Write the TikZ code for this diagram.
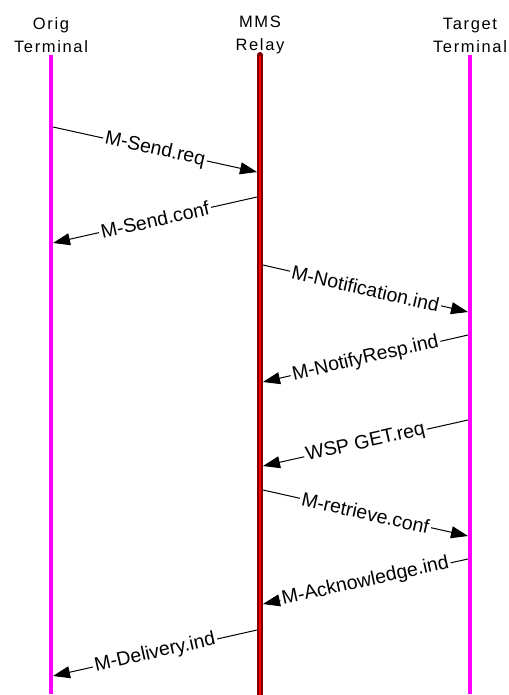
\documentclass[tikz,border=0pt]{standalone}
\usepackage{fontspec}
\setmainfont{Liberation Sans}
\usetikzlibrary{arrows.meta}
\definecolor{rojoosc}{RGB}{128,0,0}
\definecolor{fucsia}{RGB}{255,0,255}
\tikzset{
  vida/.style={line width=3.5pt,fucsia},
  msg/.style={line width=1pt,black,-{Triangle[length=17pt,width=12pt]}},
  etiq/.style={fill=white,sloped,inner xsep=2pt,inner ysep=0pt,
    font=\fontsize{19.5}{22}\selectfont},
  cabecera/.style={align=center,inner sep=0pt,
    font=\fontsize{16.5}{23}\selectfont\addfontfeatures{LetterSpace=10}},
}
\begin{document}
\begin{tikzpicture}[x=1pt,y=-1pt]
  \useasboundingbox (0,0) rectangle (508,695);
  %\draw[dashed,very thin,gray] (0,0) grid[step=50] (508,695);
  \node[cabecera] (orig) at (51,35) {Orig\\Terminal};
  \node[cabecera] (relay) at (260,35) {MMS\\Relay};
  \node[cabecera] (target) at (470,35) {Target\\Terminal};
  \coordinate (o1) at (51,55); \coordinate (o2) at (51,694); % Linea Orig
  \coordinate (r1) at (260,55); \coordinate (r2) at (260,695); % Linea Relay
  \coordinate (t1) at (470,55); \coordinate (t2) at (470,694); % Linea Target
  \draw[vida] (o1) -- (o2);
  \draw[vida] (t1) -- (t2);
  \draw[line width=6pt,rojoosc,line cap=round] (r1) -- (r2); % Relay borde
  \draw[line width=2.5pt,red] (r1) ++(0,1) -- (r2); % Relay interior
  % Extremos de los mensajes
  \path (53,127) coordinate (a1) (257,172) coordinate (b1); % M-Send.req
  \path (257,197) coordinate (a2) (53,243) coordinate (b2); % M-Send.conf
  \path (263,265) coordinate (a3) (468,312) coordinate (b3); % M-Notification.ind
  \path (468,335) coordinate (a4) (263,382) coordinate (b4); % M-NotifyResp.ind
  \path (468,420) coordinate (a5) (263,466) coordinate (b5); % WSP GET.req
  \path (263,490) coordinate (a6) (468,536) coordinate (b6); % M-retrieve.conf
  \path (468,559) coordinate (a7) (263,604) coordinate (b7); % M-Acknowledge.ind
  \path (257,630) coordinate (a8) (53,676) coordinate (b8); % M-Delivery.ind
  % Mensajes
  \draw[msg] (a1) -- node[etiq]{M-Send.req} (b1);
  \draw[msg] (a2) -- node[etiq]{M-Send.conf} (b2);
  \draw[msg] (a3) -- node[etiq]{M-Notification.ind} (b3);
  \draw[msg] (a4) -- node[etiq]{M-NotifyResp.ind} (b4);
  \draw[msg] (a5) -- node[etiq]{WSP GET.req} (b5);
  \draw[msg] (a6) -- node[etiq]{M-retrieve.conf} (b6);
  \draw[msg] (a7) -- node[etiq]{M-Acknowledge.ind} (b7);
  \draw[msg] (a8) -- node[etiq]{M-Delivery.ind} (b8);
\end{tikzpicture}
\end{document}
